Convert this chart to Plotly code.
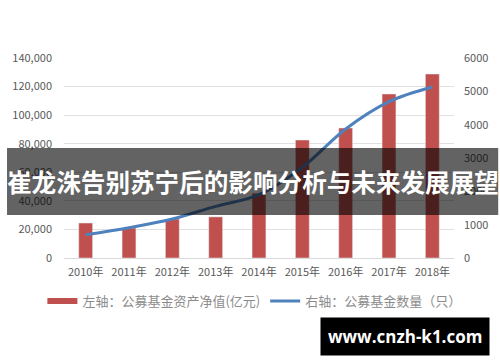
import plotly.graph_objects as go

years = ["2010年", "2011年", "2012年", "2013年", "2014年", "2015年", "2016年", "2017年", "2018年"]
nav_values = [24500, 21000, 27300, 28800, 45400, 82600, 91000, 114800, 128800]
fund_counts = [700, 910, 1170, 1550, 1900, 2720, 3870, 4690, 5130]
left_ticks = [0, 20000, 40000, 60000, 80000, 100000, 120000, 140000]
right_ticks = [0, 1000, 2000, 3000, 4000, 5000, 6000]

W, H = 500, 362
L, R, T, B = 58, 45, 58, 104
pw, ph = W - L - R, H - T - B

def px(x):
    return (x - L) / pw

def py(y):
    return (H - B - y) / ph

RED = "#c0504d"
BLUE = "#4f81bd"

fig = go.Figure()
fig.add_trace(go.Bar(
    x=years, y=nav_values, name="左轴：公募基金资产净值(亿元)",
    marker=dict(color=RED), yaxis="y", width=0.32, showlegend=False,
))
# legend stand-in for the bar series (wide flat swatch as in the reference)
fig.add_trace(go.Scatter(
    x=[years[0]], y=[None], name="左轴：公募基金资产净值(亿元)",
    mode="lines", line=dict(color=RED, width=6), yaxis="y",
))
fig.add_trace(go.Scatter(
    x=years, y=fund_counts, name="右轴：公募基金数量（只）",
    mode="lines", line=dict(color=BLUE, width=3, shape="spline"),
    yaxis="y2",
))

tickfont = dict(family="Noto Sans CJK SC", size=11, color="#595959")
fig.update_layout(
    width=W, height=H,
    margin=dict(l=L, r=R, t=T, b=B),
    paper_bgcolor="white", plot_bgcolor="white",
    font=dict(family="Noto Sans CJK SC", color="#595959"),
    xaxis=dict(tickfont=tickfont, showgrid=False, showline=True,
               linecolor="#d9d9d9", ticks="", ticklabelstandoff=4),
    yaxis=dict(range=[0, 140000], tickvals=left_ticks, tickformat=",",
               tickfont=tickfont, gridcolor="#e0e0e0", zeroline=False,
               showline=False, ticks="", ticklabelstandoff=11),
    yaxis2=dict(range=[0, 6000], tickvals=right_ticks, overlaying="y",
                side="right", showgrid=False, tickfont=tickfont,
                zeroline=False, ticks="", ticklabelstandoff=9),
    showlegend=True,
    legend=dict(orientation="h", x=px(36), xanchor="left", y=py(286),
                yanchor="top",
                font=dict(family="Noto Sans CJK SC", size=13, color="#8c8c8c"),
                itemwidth=30, tracegroupgap=0),
    bargap=0.68,
)

# dark banner overlay
fig.add_shape(type="rect", xref="paper", yref="paper",
              x0=px(0), x1=px(W), y0=py(215), y1=py(148),
              fillcolor="rgba(0,0,0,0.61)", line=dict(width=0), layer="above")
fig.add_annotation(text="<b>崔龙洙告别苏宁后的影响分析与未来发展展望</b>",
                   xref="paper", yref="paper", x=px(250), y=py(181),
                   xanchor="center", yanchor="middle", showarrow=False,
                   font=dict(family="Noto Sans CJK SC", size=24.6, color="white"))

# watermark
fig.add_annotation(text="<b>www.cnzh-k1.com</b>",
                   xref="paper", yref="paper", x=px(405), y=py(336),
                   xanchor="center", yanchor="middle", showarrow=False,
                   bgcolor="black", borderpad=7,
                   font=dict(family="Open Sans", size=17, color="white"))

fig.write_html("out.html")
